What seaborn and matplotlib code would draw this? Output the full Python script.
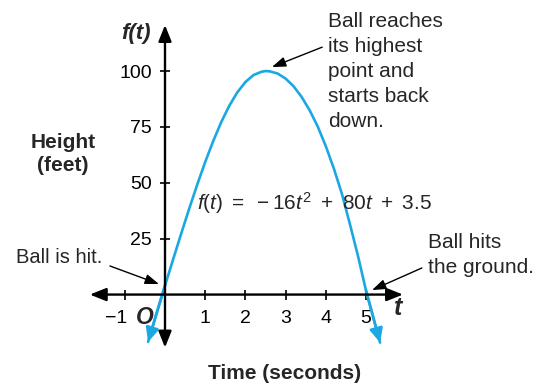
import matplotlib
matplotlib.use("Agg")
import matplotlib.pyplot as plt
import matplotlib.transforms as mtransforms
import seaborn as sns

# Valores (tempo em segundos, altura em pés)
tempo = [-0.42, -0.2, 0, 0.2, 0.4, 0.6, 0.8, 1.0, 1.2, 1.4, 1.6, 1.8, 2.0, 2.2, 2.4, 2.5,
         2.6, 2.8, 3.0, 3.2, 3.4, 3.6, 3.8, 4.0, 4.2, 4.4, 4.6, 4.8, 5.0, 5.2, 5.35]
altura = [-21.2, -7.7, 4, 15.6, 27.1, 38.3, 49.1, 59.3, 68.7, 77.2, 84.5, 90.5, 95.1, 98.2, 99.7, 100,
          99.9, 98.9, 96.65, 93.15, 88.4, 82.4, 75.15, 66.4, 56.4, 45.1, 31.5, 17.3, 1.8, -11.5, -21.5]

ticks_x = [-1, 1, 2, 3, 4, 5]
rotulos_x = ["\u22121", "1", "2", "3", "4", "5"]
ticks_y = [25, 50, 75, 100]
rotulos_y = ["25", "50", "75", "100"]

sns.set_style("white")
plt.rcParams["font.family"] = ["Liberation Sans", "DejaVu Sans"]
plt.rcParams["mathtext.fontset"] = "custom"
plt.rcParams["mathtext.rm"] = "Liberation Sans"
plt.rcParams["mathtext.it"] = "Liberation Sans:italic"

azul = "#1ba8e2"

fig = plt.figure(figsize=(5.47, 3.90), dpi=100)
ax = fig.add_axes([0, 0, 1, 1])
ax.set_xlim(-4.104, 9.502)
ax.set_ylim(-42.7, 131.8)

# Curva da bola
sns.lineplot(x=tempo, y=altura, ax=ax, color=azul, linewidth=1.9, sort=False, zorder=3)
estilo_seta = "-|>,head_length=0.6,head_width=0.28"
ax.annotate("", xy=(tempo[-1], altura[-1]), xytext=(tempo[-3], altura[-3]),
            arrowprops=dict(arrowstyle=estilo_seta, color=azul, lw=1.9,
                            shrinkA=0, shrinkB=0, mutation_scale=14), zorder=3)
ax.annotate("", xy=(tempo[0], altura[0]), xytext=(tempo[2], altura[2]),
            arrowprops=dict(arrowstyle=estilo_seta, color=azul, lw=1.9,
                            shrinkA=0, shrinkB=0, mutation_scale=14), zorder=3)

# Eixos no zero
for lado in ["top", "right", "left", "bottom"]:
    ax.spines[lado].set_visible(False)
ax.spines["left"].set_position(("data", 0))
ax.spines["bottom"].set_position(("data", 0))
estilo_eixo = "<|-|>,head_length=0.7,head_width=0.28"
ax.annotate("", xy=(0, 120.6), xytext=(0, -23.7),
            arrowprops=dict(arrowstyle=estilo_eixo, color="black", lw=1.7,
                            shrinkA=0, shrinkB=0, mutation_scale=14))
ax.annotate("", xy=(5.92, 0), xytext=(-1.87, 0),
            arrowprops=dict(arrowstyle=estilo_eixo, color="black", lw=1.7,
                            shrinkA=0, shrinkB=0, mutation_scale=14))

ax.set_xticks(ticks_x)
ax.set_xticklabels(rotulos_x)
ax.set_yticks(ticks_y)
ax.set_yticklabels(rotulos_y)
ax.tick_params(axis="both", direction="inout", length=7.5, width=1.2, color="black",
               labelsize=14, labelcolor="black")
ax.tick_params(axis="x", pad=7.5)
ax.tick_params(axis="y", pad=5.5)
ax.xaxis.set_ticks_position("bottom")
ax.yaxis.set_ticks_position("left")
desloca = mtransforms.ScaledTranslation(-9 / 100, 0, fig.dpi_scale_trans)
rot = ax.get_xticklabels()[0]
rot.set_transform(rot.get_transform() + desloca)

# Rótulos dos eixos
ax.text(-0.5, -10.1, "O", fontsize=16.5, fontweight="bold", fontstyle="italic",
        ha="center", va="center")
ax.text(5.80, -6.0, "t", fontsize=18, fontweight="bold", fontstyle="italic",
        ha="center", va="center")
ax.text(-0.72, 117.0, "f(t)", fontsize=16, fontweight="bold", fontstyle="italic",
        ha="center", va="center")
ax.text(-2.54, 62.9, "Height\n(feet)", fontsize=15, fontweight="bold",
        ha="center", va="center", linespacing=1.3)
ax.text(2.985, -35.1, "Time (seconds)", fontsize=15, fontweight="bold",
        ha="center", va="center")

# Equação
ax.text(0.80, 40.9, r"$f(t)\ =\ -16t^2\ +\ 80t\ +\ 3.5$", fontsize=15,
        ha="left", va="center")

# Anotações com setas
seta_fina = dict(arrowstyle="-|>,head_length=0.7,head_width=0.25", color="black", lw=1.0,
                 shrinkA=0, shrinkB=0, mutation_scale=12)
ax.annotate("", xy=(2.66, 101.8), xytext=(3.91, 110.7), arrowprops=seta_fina)
ax.text(4.05, 99.6, "Ball reaches\nits highest\npoint and\nstarts back\ndown.",
        fontsize=15, ha="left", va="center", linespacing=1.4)

ax.annotate("", xy=(-0.15, 4.7), xytext=(-1.37, 12.8), arrowprops=seta_fina)
ax.text(-2.64, 16.8, "Ball is hit.", fontsize=14.5, ha="center", va="center")

ax.annotate("", xy=(5.15, 2.0), xytext=(6.39, 11.9), arrowprops=seta_fina)
ax.text(6.54, 17.7, "Ball hits\nthe ground.", fontsize=15, ha="left", va="center",
        linespacing=1.4)

fig.savefig("out.png", dpi=100)
